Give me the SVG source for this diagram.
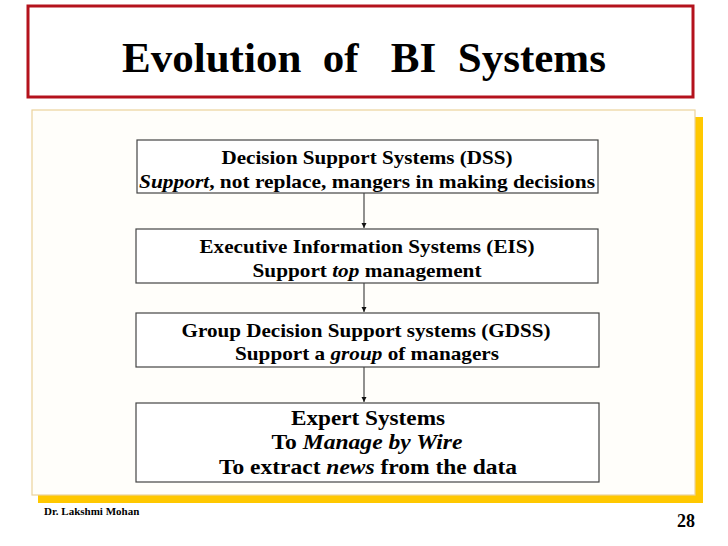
<svg xmlns="http://www.w3.org/2000/svg" width="728" height="546" viewBox="0 0 728 546">
<style>
.box{fill:#fff;stroke:#444;stroke-width:1.2}
.t{font-family:"Liberation Serif","Times New Roman",serif;font-weight:bold;font-size:19px;fill:#000;text-anchor:middle}
.e{font-size:20px}
.conn{stroke:#555;stroke-width:1.3;fill:none}
</style>
<defs>
<marker id="ah" markerWidth="6" markerHeight="6" refX="5" refY="3" orient="auto" markerUnits="userSpaceOnUse">
<path d="M0,0.5 L5,3 L0,5.5 Z" fill="#111"/>
</marker>
</defs>
<rect width="728" height="546" fill="#fff"/>
<g id="title">
<rect x="28" y="6" width="665" height="91" fill="#fff" stroke="#b4121c" stroke-width="3"/>
<text x="364" y="72" font-family="Liberation Serif, Times New Roman, serif" font-weight="bold" font-size="43" text-anchor="middle" xml:space="preserve">Evolution  of   BI  Systems</text>
</g>
<g id="panel">
<rect x="38" y="117" width="665" height="386" fill="#ffc800"/>
<rect x="32" y="110" width="663" height="385" fill="#fffefa" stroke="#ecd29c" stroke-width="1.2"/>
</g>
<g id="connectors">
<line class="conn" x1="364" y1="193" x2="364" y2="228" marker-end="url(#ah)"/>
<line class="conn" x1="364" y1="283" x2="364" y2="312" marker-end="url(#ah)"/>
<line class="conn" x1="364" y1="367" x2="364" y2="402" marker-end="url(#ah)"/>
</g>
<g id="dss">
<rect class="box" x="137" y="140" width="461" height="53"/>
<text class="t" x="367" y="164" textLength="291" lengthAdjust="spacingAndGlyphs">Decision Support Systems (DSS)</text>
<text class="t" x="367" y="188" textLength="456" lengthAdjust="spacingAndGlyphs"><tspan font-style="italic">Support</tspan>, not replace, mangers in making decisions</text>
</g>
<g id="eis">
<rect class="box" x="136" y="229" width="462" height="54"/>
<text class="t" x="367" y="253" textLength="335" lengthAdjust="spacingAndGlyphs">Executive Information Systems (EIS)</text>
<text class="t" x="367" y="277" textLength="229" lengthAdjust="spacingAndGlyphs">Support <tspan font-style="italic">top</tspan> management</text>
</g>
<g id="gdss">
<rect class="box" x="136" y="313" width="463" height="54"/>
<text class="t" x="366" y="337" textLength="369" lengthAdjust="spacingAndGlyphs">Group Decision Support systems (GDSS)</text>
<text class="t" x="367" y="360" textLength="264" lengthAdjust="spacingAndGlyphs">Support a <tspan font-style="italic">group</tspan> of managers</text>
</g>
<g id="expert">
<rect class="box" x="136" y="403" width="463" height="79"/>
<text class="t e" x="368" y="425" textLength="154" lengthAdjust="spacingAndGlyphs">Expert Systems</text>
<text class="t e" x="367" y="449" textLength="191" lengthAdjust="spacingAndGlyphs">To <tspan font-style="italic">Manage by Wire</tspan></text>
<text class="t e" x="368" y="474" textLength="298" lengthAdjust="spacingAndGlyphs">To extract <tspan font-style="italic">news</tspan> from the data</text>
</g>
<g id="footer">
<text x="44" y="515" font-family="Liberation Serif, Times New Roman, serif" font-weight="bold" font-size="11">Dr. Lakshmi Mohan</text>
<text x="695" y="527" font-family="Liberation Serif, Times New Roman, serif" font-weight="bold" font-size="18" text-anchor="end">28</text>
</g>
</svg>
